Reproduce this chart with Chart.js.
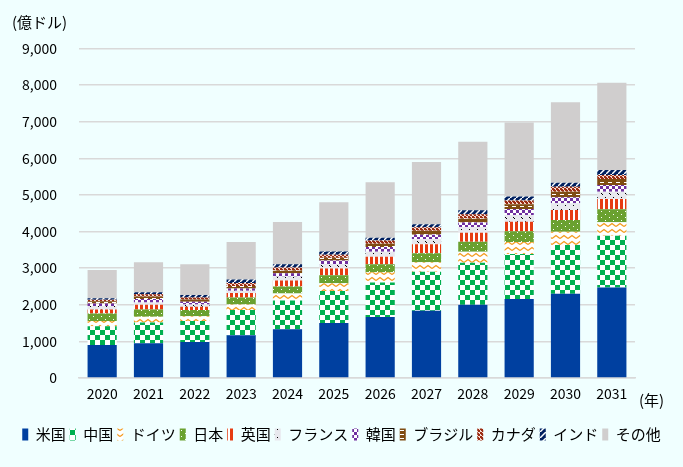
<!DOCTYPE html>
<html>
<head>
<meta charset="utf-8">
<script src="https://cdn.jsdelivr.net/npm/chart.js@4.4.1/dist/chart.umd.min.js"></script>
<style>
html,body{margin:0;padding:0;background:#F0FFFF;}
#wrap{width:683px;height:467px;}
</style>
</head>
<body>
<div id="wrap"><canvas id="c" width="683" height="467"></canvas></div>
<script>
const years = ['2020','2021','2022','2023','2024','2025','2026','2027','2028','2029','2030','2031'];
const seriesNames = ['米国','中国','ドイツ','日本','英国','フランス','韓国','ブラジル','カナダ','インド','その他'];
const usa     = [900, 950, 980,1170,1330,1500,1665,1835,2000,2160,2300,2470];
const china   = [515, 565, 575, 685, 790, 875, 945,1070,1150,1225,1335,1415];
const germany = [145, 155, 135, 155, 190, 215, 280, 260, 295, 330, 360, 370];
const japan   = [200, 200, 165, 190, 190, 215, 220, 245, 275, 295, 320, 355];
const uk      = [110, 130,  90, 125, 160, 185, 200, 245, 250, 255, 275, 280];
const france  = [100,  65,  65,  55, 110, 120, 135, 145, 155, 185, 180, 200];
const korea   = [ 65,  95,  70,  65,  90, 100, 130, 110, 125, 165, 165, 180];
const brazil  = [ 60,  65,  65,  70,  75,  75,  90, 115, 110, 130, 155, 165];
const canada  = [ 45,  65,  55,  80,  80,  80,  90,  95, 110, 100, 135, 110];
const india   = [ 40,  55,  65,  95,  95,  90,  75,  80, 110, 110, 110, 135];
const others  = [770, 820, 845,1025,1150,1345,1520,1700,1870,2025,2200,2385];
const yTicks  = [0,1000,2000,3000,4000,5000,6000,7000,8000,9000];

function tile(w, h, draw) {
  const cv = document.createElement('canvas');
  cv.width = w; cv.height = h;
  const g = cv.getContext('2d');
  draw(g, w, h);
  return document.getElementById('c').getContext('2d').createPattern(cv, 'repeat');
}
const pUSA = '#0040A0';
const pChina = tile(10, 10, (g) => {
  g.fillStyle = '#ffffff'; g.fillRect(0,0,10,10);
  g.fillStyle = '#00B050'; g.fillRect(0,0,5,5); g.fillRect(5,5,5,5);
});
const pGermany = tile(8, 6, (g) => {
  g.fillStyle = '#ffffff'; g.fillRect(0,0,8,6);
  g.strokeStyle = '#F39A1E'; g.lineWidth = 1.4;
  g.beginPath(); g.moveTo(0,4.5); g.lineTo(4,1.5); g.lineTo(8,4.5); g.stroke();
});
const pJapan = tile(8, 6, (g) => {
  g.fillStyle = '#6AA130'; g.fillRect(0,0,8,6);
  g.fillStyle = '#ffffff'; g.fillRect(1,1,1,1); g.fillRect(5,4,1,1);
});
const pUK = tile(5, 4, (g) => {
  g.fillStyle = '#ffffff'; g.fillRect(0,0,5,4);
  g.fillStyle = '#E63C12'; g.fillRect(0,0,3,4);
});
const pFrance = tile(8, 8, (g) => {
  g.fillStyle = '#E8E8EE'; g.fillRect(0,0,8,8);
  g.fillStyle = '#000000'; g.fillRect(1,1,1,1); g.fillRect(5,5,1,1); g.fillRect(2,2,1,1);
});
const pKorea = tile(6, 6, (g) => {
  g.fillStyle = '#ffffff'; g.fillRect(0,0,6,6);
  g.fillStyle = '#7030A0'; g.fillRect(0,0,3,3); g.fillRect(3,3,3,3);
});
const pBrazil = tile(8, 4, (g) => {
  g.fillStyle = '#7F4C12'; g.fillRect(0,0,8,4);
  g.fillStyle = '#ffffff'; g.fillRect(0,2,4,1);
});
const pCanada = tile(4, 4, (g) => {
  g.fillStyle = '#F4D8D0'; g.fillRect(0,0,4,4);
  g.fillStyle = '#9B2C12'; g.fillRect(0,0,2,2); g.fillRect(2,2,2,2); g.fillRect(1,1,2,2);
});
const pIndia = tile(6, 6, (g) => {
  g.fillStyle = '#002060'; g.fillRect(0,0,6,6);
  g.strokeStyle = '#ffffff'; g.lineWidth = 1.5;
  g.beginPath(); g.moveTo(-1,7); g.lineTo(7,-1); g.stroke();
});
const pOthers = '#D0CECE';

const seriesData = [usa, china, germany, japan, uk, france, korea, brazil, canada, india, others];
const fills = [pUSA, pChina, pGermany, pJapan, pUK, pFrance, pKorea, pBrazil, pCanada, pIndia, pOthers];

const FONT = '"Noto Sans CJK JP", "Noto Sans", sans-serif';

const bgAndText = {
  id: 'bgAndText',
  beforeDraw(chart) {
    const ctx = chart.ctx;
    ctx.save();
    ctx.fillStyle = '#F0FFFF';
    ctx.fillRect(0, 0, chart.width, chart.height);
    ctx.restore();
  },
  afterDraw(chart) {
    const ctx = chart.ctx;
    ctx.save();
    ctx.fillStyle = '#000000';
    ctx.font = '15px ' + FONT;
    ctx.textBaseline = 'middle';
    ctx.textAlign = 'left';
    ctx.fillText('(億ドル)', 12, 22);
    ctx.fillText('(年)', 639, 400);
    ctx.restore();
  }
};

new Chart(document.getElementById('c'), {
  type: 'bar',
  data: {
    labels: years,
    datasets: seriesNames.map((n, i) => ({
      label: n,
      data: seriesData[i],
      backgroundColor: fills[i],
      borderWidth: 0,
      barPercentage: 0.63,
      categoryPercentage: 1.0
    }))
  },
  options: {
    responsive: false,
    animation: false,
    devicePixelRatio: 1,
    layout: { padding: { top: 48.5, right: 0, left: 0, bottom: 15 } },
    plugins: {
      tooltip: { enabled: false },
      legend: {
        position: 'bottom',
        align: 'center',
        labels: {
          boxWidth: 6,
          boxHeight: 12,
          padding: 4,
          color: '#000000',
          font: { family: FONT, size: 15 }
        }
      }
    },
    scales: {
      x: {
        stacked: true,
        grid: { display: false, drawTicks: false },
        border: { display: true, color: '#D9D9D9', width: 1.5 },
        ticks: { color: '#000000', padding: 7, font: { family: FONT, size: 14 }, maxRotation: 0 },
        afterFit: (s) => { s.height = 45; }
      },
      y: {
        stacked: true,
        min: 0,
        max: 9000,
        afterBuildTicks: (s) => { s.ticks = yTicks.map(v => ({ value: v })); },
        grid: { color: '#D9D9D9', lineWidth: 1.5, drawTicks: false },
        border: { display: false },
        ticks: {
          color: '#000000',
          padding: 22,
          font: { family: FONT, size: 14 },
          callback: (v) => v.toLocaleString('en-US')
        },
        afterFit: (s) => { s.width = 79; }
      },
      yRight: {
        type: 'linear',
        position: 'right',
        display: true,
        grid: { display: false, drawTicks: false },
        border: { display: false },
        ticks: { display: false },
        afterFit: (s) => { s.width = 48; }
      }
    }
  },
  plugins: [bgAndText]
});
</script>
</body>
</html>
